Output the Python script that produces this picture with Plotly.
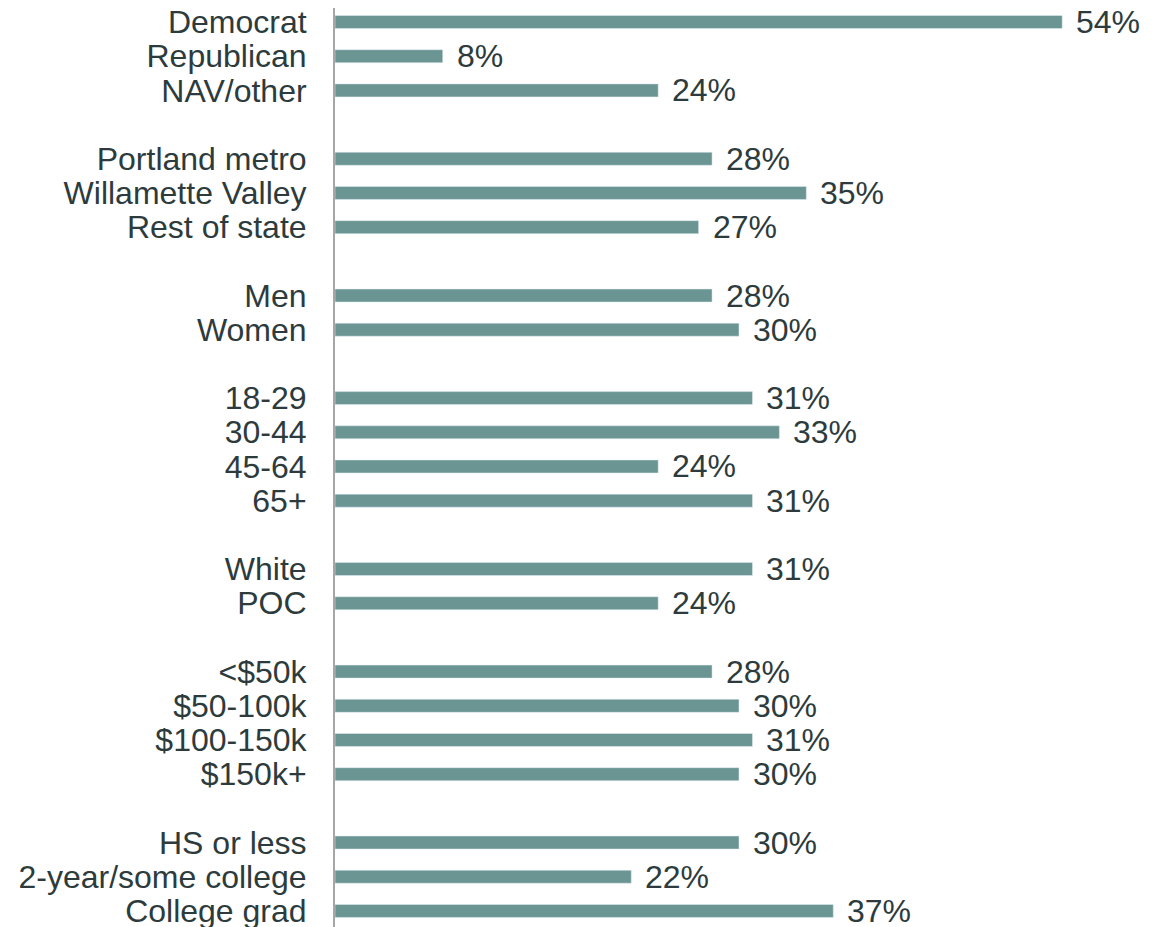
import plotly.graph_objects as go

# survey breakdown, grouped
groups = [
    ["Democrat", "Republican", "NAV/other"],
    ["Portland metro", "Willamette Valley", "Rest of state"],
    ["Men", "Women"],
    ["18-29", "30-44", "45-64", "65+"],
    ["White", "POC"],
    ["<$50k", "$50-100k", "$100-150k", "$150k+"],
    ["HS or less", "2-year/some college", "College grad"],
]
values = [
    [54, 8, 24],
    [28, 35, 27],
    [28, 30],
    [31, 33, 24, 31],
    [31, 24],
    [28, 30, 31, 30],
    [30, 22, 37],
]

bar_color = "#6A9593"
text_color = "#2D3B3D"
font_family = "Liberation Sans, Arial, sans-serif"

labels, vals, pos = [], [], []
slot = 0
for g, v in zip(groups, values):
    for lab, val in zip(g, v):
        labels.append(lab)
        vals.append(val)
        pos.append(slot)
        slot += 1
    slot += 1  # blank row between groups

fig = go.Figure(go.Bar(
    x=vals, y=pos, orientation="h",
    marker_color=bar_color, width=0.38,
    hoverinfo="skip",
))

for p, v in zip(pos, vals):
    fig.add_annotation(x=v, y=p, text=f"{v}%", showarrow=False,
                       xanchor="left", xshift=12,
                       font=dict(size=32, color=text_color, family=font_family))

fig.update_xaxes(range=[0, 60], visible=False, automargin=False)
fig.update_yaxes(
    tickvals=pos, ticktext=labels,
    range=[pos[-1] + 0.47, -0.41],
    showgrid=False, zeroline=False, automargin=False,
    showline=True, linecolor="#A6A6A6", linewidth=2,
    ticks="", ticklabelstandoff=20, ticklabeloverflow="allow",
    tickfont=dict(size=32, color=text_color, family=font_family),
)
# page body has an 8px margin, so the figure is a bit smaller than the window
fig.update_layout(
    width=1161, height=919,
    margin=dict(l=327, r=26, t=0, b=0),
    plot_bgcolor="white", paper_bgcolor="white",
    showlegend=False,
)

fig.write_html("out.html")
